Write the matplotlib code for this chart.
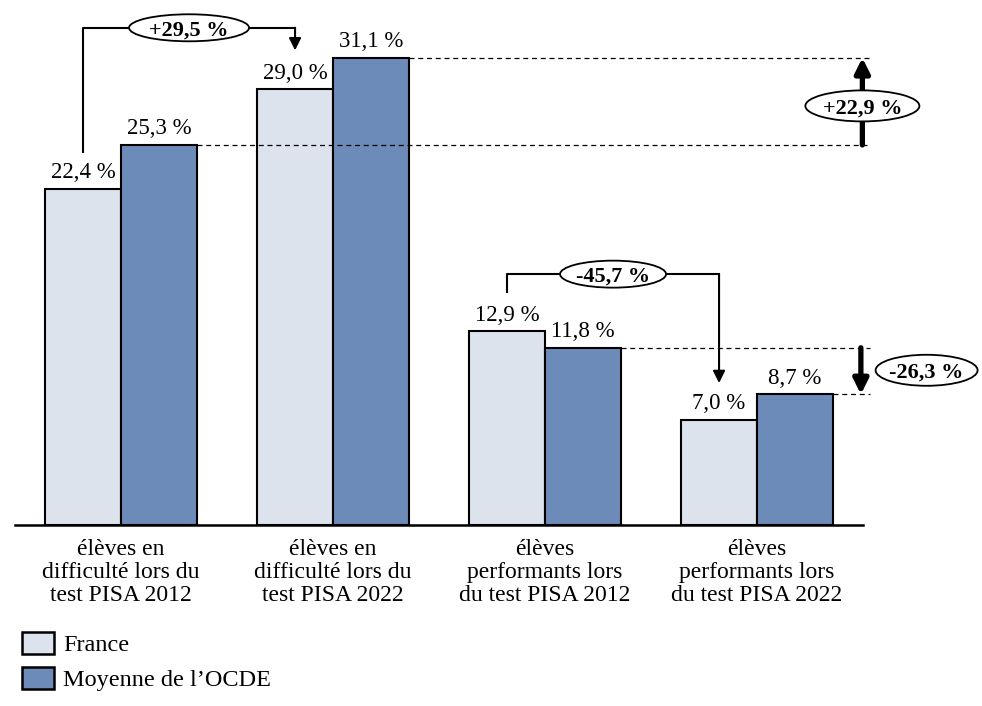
import matplotlib.pyplot as plt
import numpy as np
from matplotlib.patches import Patch, Ellipse

plt.rcParams['font.family'] = ['Liberation Serif', 'DejaVu Serif']

categories = ["élèves en\ndifficulté lors du\ntest PISA 2012",
              "élèves en\ndifficulté lors du\ntest PISA 2022",
              "élèves\nperformants lors\ndu test PISA 2012",
              "élèves\nperformants lors\ndu test PISA 2022"]
france = [22.4, 29.0, 12.9, 7.0]
ocde = [25.3, 31.1, 11.8, 8.7]
series_names = ["France", "Moyenne de l\u2019OCDE"]

c_fr = "#dce3ed"
c_oc = "#6d8bb8"


def pct(v):
    return f"{v:.1f} %".replace(".", ",")


def change(a, b):
    d = (b - a) / a * 100
    return ("+" if d > 0 else "") + f"{d:.1f} %".replace(".", ",")


fig = plt.figure(figsize=(9.82, 7.06), dpi=100)
ax = fig.add_axes([15 / 982, 1 - 525 / 706, 848 / 982, 525 / 706])

x = np.arange(len(categories))
w = 0.358
b1 = ax.bar(x - w / 2, france, w, color=c_fr, edgecolor="black", lw=1.5, label=series_names[0])
b2 = ax.bar(x + w / 2, ocde, w, color=c_oc, edgecolor="black", lw=1.5, label=series_names[1])
ax.bar_label(b1, labels=[pct(v) for v in france], padding=4, fontsize=16.5)
ax.bar_label(b2, labels=[pct(v) for v in ocde], padding=4, fontsize=16.5)

ax.set_xlim(-0.5, 3.5)
ax.set_ylim(0, 34.95)
ax.set_xticks(x)
ax.set_xticklabels(categories, fontsize=17, linespacing=1.13)
ax.tick_params(axis="x", length=0, pad=10)
ax.set_yticks([])
for s in ["top", "right", "left"]:
    ax.spines[s].set_visible(False)
ax.spines["bottom"].set_linewidth(1.8)

# pixel -> data scale for the ellipse sizes
px_x = 1 / 212
px_y = 1 / 15.02


def oval(cx, cy, text, wpx, hpx):
    ax.add_patch(Ellipse((cx, cy), wpx * px_x, hpx * px_y, fc="white", ec="black",
                         lw=1.3, zorder=5, clip_on=False))
    ax.text(cx, cy, text, fontsize=16, fontweight="bold", ha="center", va="center_baseline",
            zorder=6, clip_on=False)


head = dict(arrowstyle="-|>", color="black", lw=1.5, mutation_scale=18, shrinkA=0, shrinkB=0)
bold_head = dict(arrowstyle="-|>", color="black", lw=3.8, mutation_scale=22, shrinkA=0, shrinkB=0)

# evolution France 2012 -> 2022, élèves en difficulté
xa, xb, ytop = x[0] - w / 2, x[1] - w / 2, 33.1
ax.plot([xa, xa, xb], [france[0] + 2.4, ytop, ytop], color="black", lw=1.5, clip_on=False)
ax.annotate("", xy=(xb, france[1] + 2.6), xytext=(xb, ytop), arrowprops=head, annotation_clip=False)
oval((xa + xb) / 2, ytop, change(france[0], france[1]), 120, 27)

# evolution France 2012 -> 2022, élèves performants
xa, xb, ytop = x[2] - w / 2, x[3] - w / 2, 16.7
ax.plot([xa, xa, xb], [france[2] + 2.6, ytop, ytop], color="black", lw=1.5, clip_on=False)
ax.annotate("", xy=(xb, france[3] + 2.45), xytext=(xb, ytop), arrowprops=head, annotation_clip=False)
oval((xa + xb) / 2, ytop, change(france[2], france[3]), 106, 27)

# evolution OCDE
xr = 3.535
for i, j, xarr, xlab, ylab, wl in [(0, 1, 3.497, 3.497, 27.9, 114), (2, 3, 3.49, 3.8, 10.3, 102)]:
    for k in (i, j):
        ax.plot([k + w, xr], [ocde[k], ocde[k]], color="black", lw=0.9, ls=(0, (4, 3)), clip_on=False)
    ax.annotate("", xy=(xarr, ocde[j]), xytext=(xarr, ocde[i]), arrowprops=bold_head, annotation_clip=False)
    oval(xlab, ylab, change(ocde[i], ocde[j]), wl, 31)

handles = [Patch(fc=c_fr, ec="black", lw=1.8), Patch(fc=c_oc, ec="black", lw=1.8)]
fig.legend(handles, series_names, loc="upper left", bbox_to_anchor=(0.022, 0.105),
           frameon=False, fontsize=17.5, handlelength=1.35, handleheight=1.05,
           handletextpad=0.35, labelspacing=0.42, borderpad=0, borderaxespad=0)

fig.savefig("out.png", dpi=100)
